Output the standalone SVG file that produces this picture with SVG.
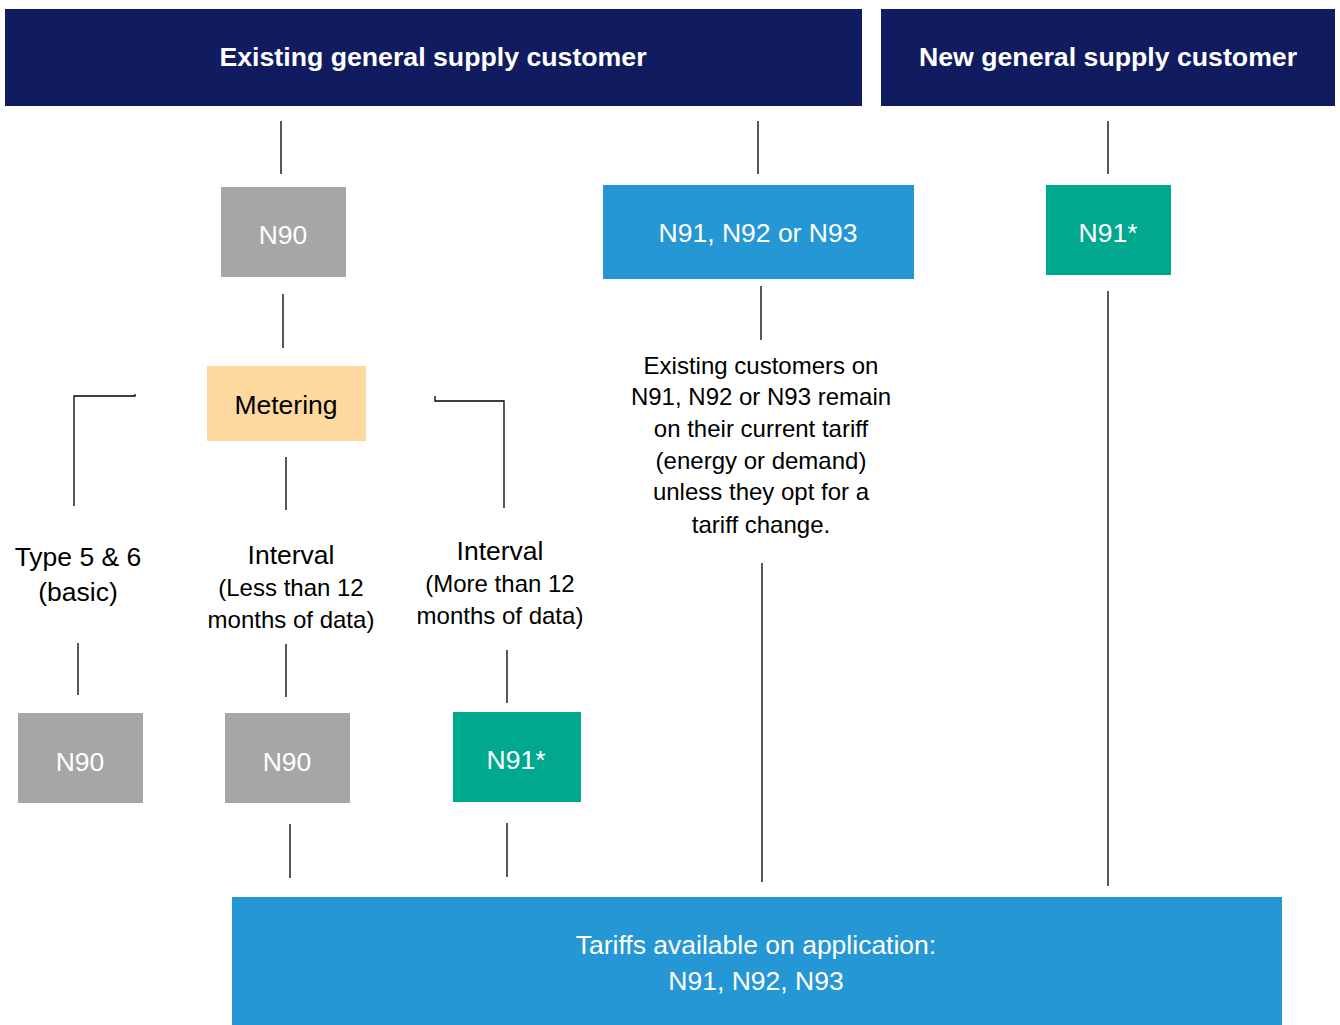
<svg xmlns="http://www.w3.org/2000/svg" width="1340" height="1025" viewBox="0 0 1340 1025">
<style>
text{font-family:"Liberation Sans",Arial,sans-serif;text-anchor:middle}
.hdr{fill:#111b60}
.hdrt{fill:#fff;font-weight:bold;font-size:26.7px}
.wt{fill:#fff;font-size:26.5px}
.bk{fill:#000;font-size:26.5px}
.par{fill:#000;font-size:24px}
.ln{stroke:#000;stroke-width:1.3;fill:none}
</style>
<rect width="1340" height="1025" fill="#fff"/>
<g id="existing"><rect class="hdr" x="5" y="9" width="857" height="97"/><text class="hdrt" x="433" y="66">Existing general supply customer</text></g>
<g id="new"><rect class="hdr" x="881" y="9" width="454" height="97"/><text class="hdrt" x="1108" y="66">New general supply customer</text></g>
<g id="n90top"><rect x="221" y="187" width="125" height="90" fill="#a6a6a6"/><text class="wt" x="283" y="244">N90</text></g>
<g id="n919293"><rect x="603" y="185" width="311" height="94" fill="#2597d4"/><text class="wt" x="758" y="242">N91, N92 or N93</text></g>
<g id="n91top"><rect x="1046" y="185" width="125" height="90" fill="#00a98e"/><text class="wt" x="1108" y="242">N91*</text></g>
<g id="metering"><rect x="207" y="366" width="159" height="75" fill="#fdd9a0"/><text class="bk" x="286" y="414">Metering</text></g>
<g id="type56"><text class="bk" x="78" y="566">Type 5 &amp; 6</text><text class="bk" x="78" y="601">(basic)</text></g>
<g id="intless"><text class="bk" x="291" y="564">Interval</text><text class="par" x="291" y="596">(Less than 12</text><text class="par" x="291" y="628">months of data)</text></g>
<g id="intmore"><text class="bk" x="500" y="560">Interval</text><text class="par" x="500" y="592">(More than 12</text><text class="par" x="500" y="624">months of data)</text></g>
<g id="note"><text class="par" x="761" y="374">Existing customers on</text><text class="par" x="761" y="405">N91, N92 or N93 remain</text><text class="par" x="761" y="437">on their current tariff</text><text class="par" x="761" y="469">(energy or demand)</text><text class="par" x="761" y="500">unless they opt for a</text><text class="par" x="761" y="533">tariff change.</text></g>
<g id="n90a"><rect x="18" y="713" width="125" height="90" fill="#a6a6a6"/><text class="wt" x="80" y="771">N90</text></g>
<g id="n90b"><rect x="225" y="713" width="125" height="90" fill="#a6a6a6"/><text class="wt" x="287" y="771">N90</text></g>
<g id="n91b"><rect x="453" y="712" width="128" height="90" fill="#00a98e"/><text class="wt" x="516" y="769">N91*</text></g>
<g id="tariffs"><rect x="232" y="897" width="1050" height="128" fill="#2597d4"/><text class="wt" x="756" y="954">Tariffs available on application:</text><text class="wt" x="756" y="990">N91, N92, N93</text></g>
<g id="connectors">
<path class="ln" d="M281 121V174M758 121V174M1108 121V174M283 294V348"/>
<path class="ln" d="M135 394V396H74V506"/>
<path class="ln" d="M435 396V401H504V508"/>
<path class="ln" d="M286 457V510M761 286V340"/>
<path class="ln" d="M78 643V695M286 644V697M507 650V703"/>
<path class="ln" d="M290 824V878M507 823V877M762 563V882M1108 291V886"/>
</g>
</svg>
